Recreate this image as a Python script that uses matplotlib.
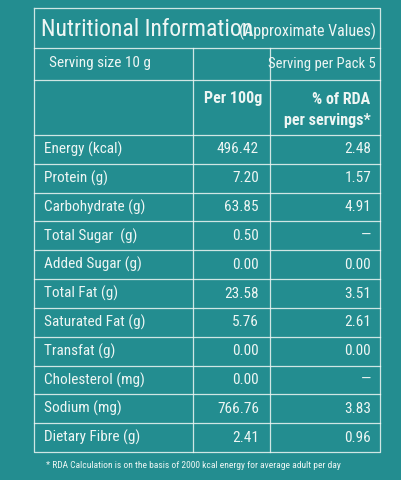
import matplotlib.pyplot as plt

nutrients = ['Energy (kcal)', 'Protein (g)', 'Carbohydrate (g)', 'Total Sugar  (g)',
             'Added Sugar (g)', 'Total Fat (g)', 'Saturated Fat (g)', 'Transfat (g)',
             'Cholesterol (mg)', 'Sodium (mg)', 'Dietary Fibre (g)']
per_100g = ['496.42', '7.20', '63.85', '0.50', '0.00', '23.58', '5.76', '0.00', '0.00', '766.76', '2.41']
rda = ['2.48', '1.57', '4.91', '—', '0.00', '3.51', '2.61', '0.00', '—', '3.83', '0.96']

W, H = 401, 480
fig = plt.figure(figsize=(W / 100, H / 100), dpi=100)
ax = fig.add_axes([0, 0, 1, 1])
ax.set_xlim(0, W)
ax.set_ylim(H, 0)
ax.axis('off')
fig.patch.set_facecolor('#238d90')

white = '#eef6f4'
lw = 0.9
left, right, top = 34, 380, 8
c1, c2 = 193, 270
title_bot, serv_bot, head_bot = 48, 80, 135
row_h = (452 - head_bot) / len(nutrients)
bottom = head_bot + row_h * len(nutrients)

# outer box and horizontal lines
ax.plot([left, right, right, left, left], [top, top, bottom, bottom, top], color=white, lw=lw, alpha=0.85)
for y in [title_bot, serv_bot, head_bot] + [head_bot + row_h * i for i in range(1, len(nutrients))]:
    ax.plot([left, right], [y, y], color=white, lw=lw, alpha=0.85)
for x in [c1, c2]:
    ax.plot([x, x], [title_bot, bottom], color=white, lw=lw, alpha=0.85)

fam = ['Liberation Sans Narrow', 'Roboto Condensed', 'DejaVu Sans']
ax.text(41, 29, 'Nutritional Information', color=white, fontsize=17,
        va='center', ha='left', family=fam)
ax.text(376, 31, '(Approximate Values)', color=white, fontsize=11.5,
        va='center', ha='right', family=fam)
ax.text(49, 63, 'Serving size 10 g', color=white, fontsize=11, va='center', family=fam)
ax.text(376, 64, 'Serving per Pack 5', color=white, fontsize=10.5, va='center', ha='right', family=fam)
ax.text(262, 99, 'Per 100g', color=white, fontsize=11.5, fontweight='bold', va='center', ha='right', family=fam)
ax.text(370, 99, '% of RDA', color=white, fontsize=11.5, fontweight='bold', va='center', ha='right', family=fam)
ax.text(371, 120, 'per servings*', color=white, fontsize=11.5, fontweight='bold', va='center', ha='right', family=fam)

for i, (n, p, r) in enumerate(zip(nutrients, per_100g, rda)):
    y = head_bot + row_h * (i + 0.5)
    ax.text(44, y, n, color=white, fontsize=11, va='center', ha='left', family=fam)
    ax.text(259, y, p, color=white, fontsize=11, va='center', ha='right', family=fam)
    ax.text(371, y, r, color=white, fontsize=11, va='center', ha='right', family=fam)

ax.text(46, 465, '* RDA Calculation is on the basis of 2000 kcal energy for average adult per day',
        color=white, fontsize=6.8, va='center', ha='left', family=fam)

fig.savefig('out.png', dpi=100, facecolor=fig.get_facecolor())
